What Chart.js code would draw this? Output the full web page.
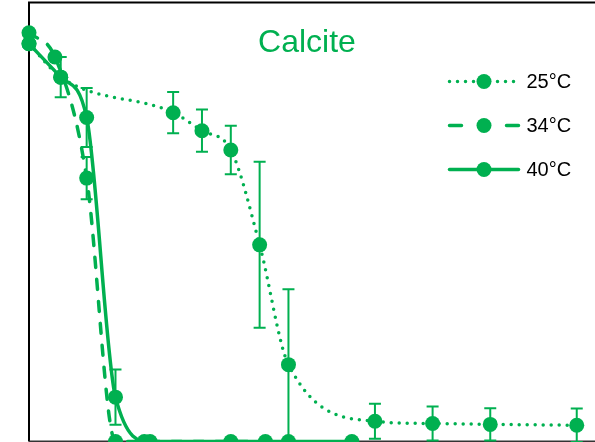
<!DOCTYPE html>
<html>
<head>
<meta charset="utf-8">
<script src="https://cdn.jsdelivr.net/npm/chart.js@4.4.1/dist/chart.umd.min.js"></script>
<style>
  html, body { margin: 0; padding: 0; background: #fff; overflow: hidden; }
  #wrap { position: relative; width: 595px; height: 442px; overflow: hidden; }
  #chart { position: absolute; left: 0; top: -5px; }
</style>
</head>
<body>
<div id="wrap"><canvas id="chart" width="605" height="454"></canvas></div>
<script>
// values (x in time units, y as fraction remaining)
const labels = ['25°C', '34°C', '40°C'];
const chartTitle = 'Calcite';

const x25 = [0, 1.1, 5, 6, 7, 8, 9, 12, 14, 16, 19];
const y25 = [0.906, 0.830, 0.749, 0.708, 0.664, 0.448, 0.175, 0.046, 0.041, 0.039, 0.037];
const e25 = [0, 0.046, 0.047, 0.048, 0.055, 0.189, 0.172, 0.040, 0.039, 0.037, 0.038];

const x34 = [0, 0.9, 2, 3, 4, 7, 9];
const y34 = [0.931, 0.876, 0.600, 0, 0, 0, 0];
const e34 = [0, 0, 0.048, 0, 0, 0, 0];

const x40 = [0, 1.1, 2, 3, 4.2, 8.2, 11.2];
const y40 = [0.906, 0.830, 0.738, 0.101, 0, 0, 0];
const e40 = [0, 0, 0.067, 0.063, 0, 0, 0];

const green = '#00B050';

function pts(xs, ys) {
  return xs.map((x, i) => ({ x: x, y: ys[i] }));
}

function makeSet(label, xs, ys, errs, dash, legendDash) {
  return {
    label: label,
    data: pts(xs, ys),
    errors: errs,
    legendDash: legendDash,
    showLine: true,
    borderColor: green,
    backgroundColor: green,
    borderWidth: 3.5,
    borderDash: dash,
    borderCapStyle: 'round',
    cubicInterpolationMode: 'monotone',
    pointRadius: 7.5,
    pointHoverRadius: 7.5,
    pointBackgroundColor: green,
    pointBorderWidth: 0,
    clip: false
  };
}

// frame: left, top and bottom lines
const framePlugin = {
  id: 'frame',
  beforeDatasetsDraw(chart) {
    const a = chart.chartArea, ctx = chart.ctx;
    ctx.save();
    ctx.lineWidth = 2;
    ctx.strokeStyle = '#000';
    ctx.beginPath();
    ctx.moveTo(a.right + 10, a.top);
    ctx.lineTo(a.left, a.top);
    ctx.lineTo(a.left, a.bottom);
    ctx.stroke();
    ctx.strokeStyle = '#333';
    ctx.beginPath();
    ctx.moveTo(a.left, a.bottom);
    ctx.lineTo(a.right + 10, a.bottom);
    ctx.stroke();
    ctx.restore();
  }
};

// error bars from the scales
const errorBarPlugin = {
  id: 'errorBars',
  afterDatasetsDraw(chart) {
    const ctx = chart.ctx, ys = chart.scales.y;
    ctx.save();
    ctx.strokeStyle = green;
    ctx.lineWidth = 2;
    chart.data.datasets.forEach((ds, di) => {
      const meta = chart.getDatasetMeta(di);
      ds.data.forEach((p, i) => {
        const e = ds.errors[i];
        if (!e) return;
        const px = meta.data[i].x;
        const top = ys.getPixelForValue(p.y + e);
        const bot = ys.getPixelForValue(p.y - e);
        ctx.beginPath();
        ctx.moveTo(px, top); ctx.lineTo(px, bot);
        ctx.moveTo(px - 6, top); ctx.lineTo(px + 6, top);
        ctx.moveTo(px - 6, bot); ctx.lineTo(px + 6, bot);
        ctx.stroke();
      });
    });
    ctx.restore();
  }
};

// title and legend inside the plot
const legendPlugin = {
  id: 'insideLegend',
  afterDraw(chart) {
    const ctx = chart.ctx, a = chart.chartArea;
    ctx.save();
    ctx.fillStyle = green;
    ctx.font = '32px "Liberation Sans", Arial, sans-serif';
    ctx.textAlign = 'center';
    ctx.textBaseline = 'middle';
    ctx.fillText(chartTitle, 307, a.top + 41);

    chart.data.datasets.forEach((ds, i) => {
      const y = a.top + 79 + i * 44;
      const x0 = a.right - 148, x1 = a.right - 79;
      ctx.strokeStyle = ds.borderColor;
      ctx.lineWidth = ds.borderWidth;
      ctx.lineCap = 'round';
      ctx.setLineDash(ds.legendDash);
      ctx.beginPath();
      ctx.moveTo(x0, y); ctx.lineTo(x1, y);
      ctx.stroke();
      ctx.setLineDash([]);
      ctx.fillStyle = ds.pointBackgroundColor;
      ctx.beginPath();
      ctx.arc((x0 + x1) / 2, y, 7.5, 0, Math.PI * 2);
      ctx.fill();
      ctx.fillStyle = '#000';
      ctx.font = '20px "Liberation Sans", Arial, sans-serif';
      ctx.textAlign = 'left';
      ctx.fillText(ds.label, x1 + 8, y + 1);
    });
    ctx.restore();
  }
};

new Chart(document.getElementById('chart'), {
  type: 'scatter',
  data: {
    datasets: [
      makeSet(labels[0], x25, y25, e25, [0, 8], [0, 8]),
      makeSet(labels[1], x34, y34, e34, [10, 12], [12, 45]),
      makeSet(labels[2], x40, y40, e40, [], [])
    ]
  },
  options: {
    responsive: false,
    animation: false,
    layout: { padding: { left: 29, top: 4, right: 0, bottom: 3 } },
    scales: {
      x: { type: 'linear', min: 0, max: 19.72, display: false },
      y: { type: 'linear', min: 0, max: 1, display: false }
    },
    plugins: {
      legend: { display: false },
      title: { display: false },
      tooltip: { enabled: false }
    }
  },
  plugins: [framePlugin, errorBarPlugin, legendPlugin]
});
</script>
</body>
</html>
